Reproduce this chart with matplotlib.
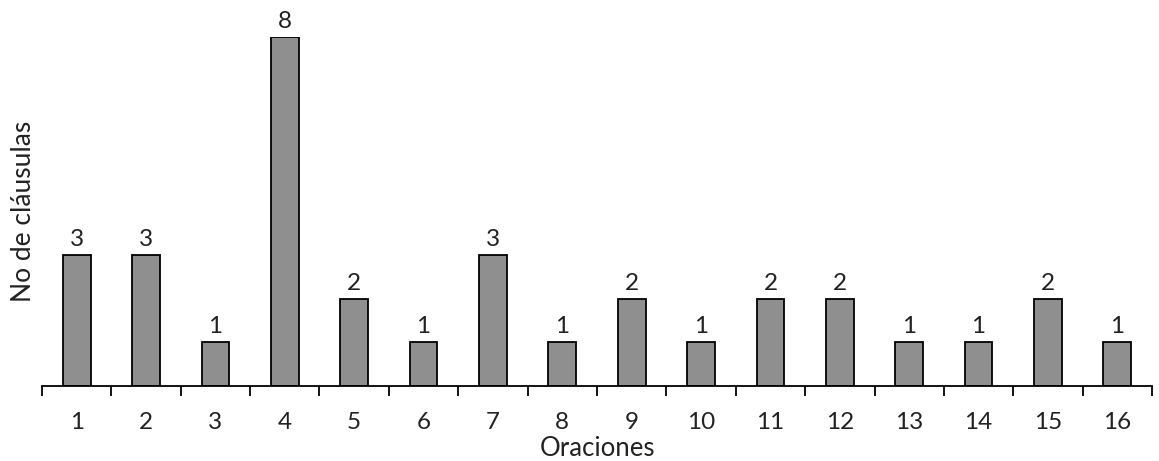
import matplotlib.pyplot as plt
import numpy as np

plt.rcParams['font.family'] = ['Lato', 'DejaVu Sans']

# Datos
oraciones = [str(i) for i in range(1, 17)]
clausulas = [3, 3, 1, 8, 2, 1, 3, 1, 2, 1, 2, 2, 1, 1, 2, 1]

fig = plt.figure(figsize=(11.59, 4.61), dpi=100)
ax = fig.add_axes([0.0362, 0.1627, 0.9578, 0.757])

x = np.arange(len(oraciones))
bars = ax.bar(x, clausulas, width=0.4, color='#8f8f8f', edgecolor='black', linewidth=1.3)

# Etiquetas encima de las barras
for xi, v in zip(x, clausulas):
    ax.text(xi, v + 0.12, str(v), ha='center', va='bottom', fontsize=17.5,
            color='#222222', clip_on=False)

ax.set_xlim(-0.5, len(oraciones) - 0.5)
ax.set_ylim(0, 8)

# Ticks en los bordes de cada categoría, etiquetas en el centro
ax.set_xticks(np.arange(-0.5, len(oraciones)), minor=False)
ax.set_xticklabels([])
ax.set_xticks(x, minor=True)
ax.set_xticklabels(oraciones, minor=True, fontsize=17.5, color='#222222')
ax.tick_params(axis='x', which='major', length=7, width=1.3, direction='out')
ax.tick_params(axis='x', which='minor', length=0, pad=19)
ax.set_yticks([])

for s in ['top', 'right', 'left']:
    ax.spines[s].set_visible(False)
ax.spines['bottom'].set_linewidth(1.3)

ax.set_xlabel('Oraciones', fontsize=18.5, color='#222222', labelpad=2)
ax.set_ylabel('No de cláusulas', fontsize=19, color='#222222', labelpad=4)

fig.savefig('out.png', dpi=100)
